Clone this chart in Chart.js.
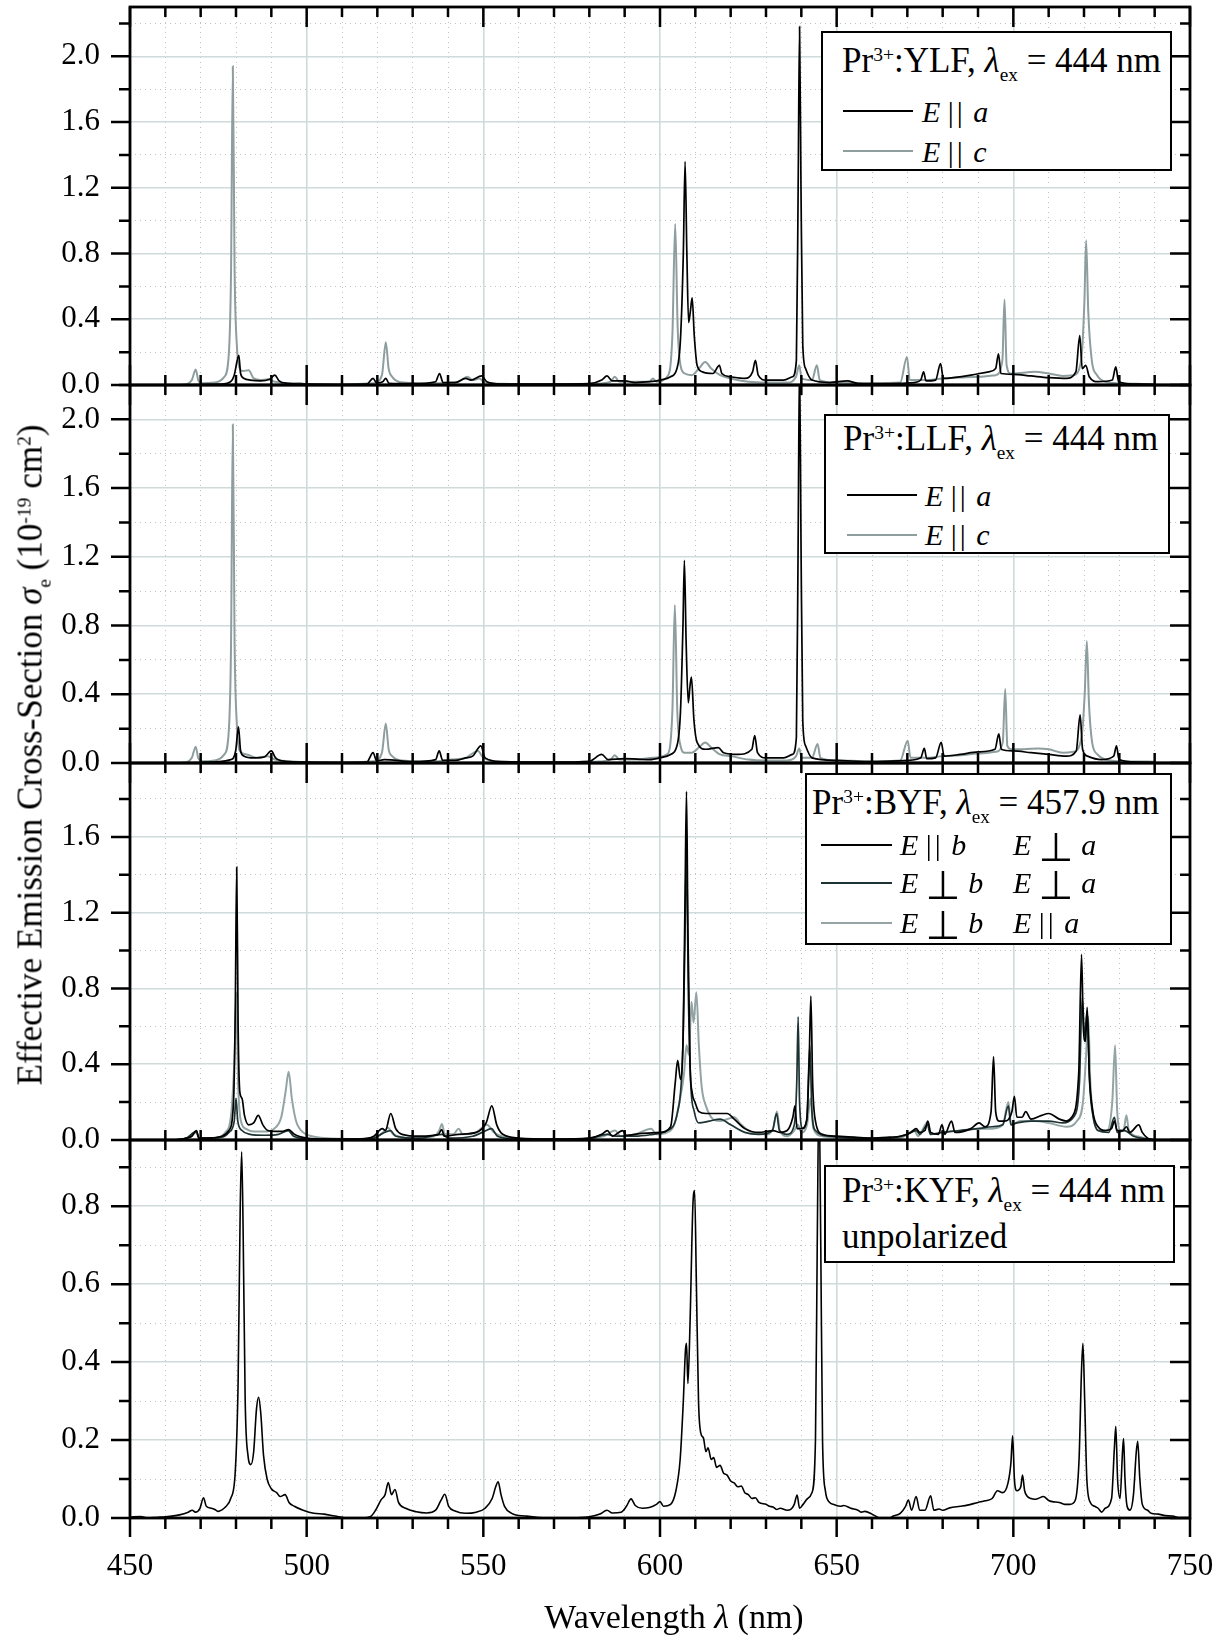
<!DOCTYPE html>
<html>
<head>
<meta charset="utf-8">
<script src="https://cdn.jsdelivr.net/npm/chart.js@4.4.1/dist/chart.umd.min.js"></script>
<style>
  html, body { margin: 0; padding: 0; background: #fff; }
  #fig { position: relative; width: 1228px; height: 1638px; overflow: hidden;
         font-family: "Liberation Serif", "Times New Roman", serif; color: #000; }
  #fig canvas { position: absolute; left: 0; }
  .box { position: absolute; background: #fff; border: 2.5px solid #000; box-sizing: border-box; }
  .t { position: absolute; white-space: nowrap; font-size: 35px; line-height: 1; }
  .e { position: absolute; white-space: nowrap; font-size: 30px; line-height: 1; }
  .ln { position: absolute; height: 0; border-top: 2px solid #000; }
  sup { font-size: 0.56em; position: relative; top: -0.55em; vertical-align: baseline; line-height: 0; }
  sub { font-size: 0.55em; position: relative; top: 0.45em; vertical-align: baseline; line-height: 0; }
  .perp { font-family: "DejaVu Sans", sans-serif; font-size: 40px; position: relative; top: 6px; line-height: 0; }
  .bars { letter-spacing: 3px; }
  #ytitle { position: absolute; left: 30px; top: 755px; white-space: nowrap; font-size: 35px; line-height: 1;
            transform: translate(-50%, -50%) rotate(-90deg); }
  #xtitle { position: absolute; left: 674px; top: 1600px; white-space: nowrap; font-size: 34px; line-height: 1;
            transform: translateX(-50%); }
</style>
</head>
<body>
<div id="fig">
  <canvas id="c1"></canvas>
  <canvas id="c2"></canvas>
  <canvas id="c3"></canvas>
  <canvas id="c4"></canvas>

  <!-- panel 1 legend -->
  <div class="box" style="left:821px;top:31px;width:351px;height:140px"></div>
  <div class="t" style="left:842px;top:43px">Pr<sup>3+</sup>:YLF, <i>λ</i><sub>ex</sub> = 444 nm</div>
  <div class="ln" style="left:843px;top:110px;width:70px;border-color:#000"></div>
  <div class="e" style="left:922px;top:97px"><i>E</i> <span class="bars">||</span> <i>a</i></div>
  <div class="ln" style="left:843px;top:150px;width:70px;border-color:#8e9d9d"></div>
  <div class="e" style="left:922px;top:137px"><i>E</i> <span class="bars">||</span> <i>c</i></div>

  <!-- panel 2 legend -->
  <div class="box" style="left:824px;top:414px;width:346px;height:140px"></div>
  <div class="t" style="left:843px;top:421px">Pr<sup>3+</sup>:LLF, <i>λ</i><sub>ex</sub> = 444 nm</div>
  <div class="ln" style="left:847px;top:494px;width:70px;border-color:#000"></div>
  <div class="e" style="left:925px;top:481px"><i>E</i> <span class="bars">||</span> <i>a</i></div>
  <div class="ln" style="left:847px;top:534px;width:70px;border-color:#8e9d9d"></div>
  <div class="e" style="left:925px;top:520px"><i>E</i> <span class="bars">||</span> <i>c</i></div>

  <!-- panel 3 legend -->
  <div class="box" style="left:805px;top:773px;width:367px;height:172px"></div>
  <div class="t" style="left:812px;top:785px">Pr<sup>3+</sup>:BYF, <i>λ</i><sub>ex</sub> = 457.9 nm</div>
  <div class="ln" style="left:821px;top:844px;width:71px;border-color:#000"></div>
  <div class="e" style="left:900px;top:830px"><i>E</i> <span class="bars">||</span> <i>b</i></div>
  <div class="e" style="left:1013px;top:830px"><i>E</i> <span class="perp">⊥</span> <i>a</i></div>
  <div class="ln" style="left:821px;top:882px;width:71px;border-color:#1d3333"></div>
  <div class="e" style="left:900px;top:868px"><i>E</i> <span class="perp">⊥</span> <i>b</i></div>
  <div class="e" style="left:1013px;top:868px"><i>E</i> <span class="perp">⊥</span> <i>a</i></div>
  <div class="ln" style="left:821px;top:922px;width:71px;border-color:#94a4a4"></div>
  <div class="e" style="left:900px;top:908px"><i>E</i> <span class="perp">⊥</span> <i>b</i></div>
  <div class="e" style="left:1013px;top:908px"><i>E</i> <span class="bars">||</span> <i>a</i></div>

  <!-- panel 4 legend -->
  <div class="box" style="left:824px;top:1165px;width:351px;height:98px"></div>
  <div class="t" style="left:842px;top:1173px">Pr<sup>3+</sup>:KYF, <i>λ</i><sub>ex</sub> = 444 nm</div>
  <div class="t" style="left:842px;top:1219px">unpolarized</div>

  <div id="ytitle">Effective Emission Cross-Section <i>σ</i><sub>e</sub> (10<sup>-19</sup> cm<sup>2</sup>)</div>
  <div id="xtitle">Wavelength <i>λ</i> (nm)</div>
</div>

<script>
// spectra: [wavelength nm, cross-section 1e-19 cm^2]

// Pr:YLF
const ylfEa = [[462,0],[470,0.003],[476,0.005],[478.5,0.02],[479.5,0.06],[480.8,0.18],[481.3,0.07],[482.3,0.04],[484,0.03],[487,0.025],[489.5,0.035],[491,0.06],[492.2,0.025],[494.5,0.01],[500,0.005],[510,0.003],[517,0.005],[518.8,0.04],[519.8,0.012],[521.5,0.02],[522.4,0.04],[523.3,0.01],[530,0.008],[536.5,0.02],[537.6,0.07],[538.6,0.015],[542,0.015],[545,0.04],[546.5,0.03],[549.5,0.055],[551,0.02],[555,0.006],[570,0.005],[580,0.008],[583.5,0.03],[585,0.055],[586.5,0.025],[590,0.025],[593,0.015],[597,0.02],[600,0.03],[603,0.05],[604.8,0.1],[605.8,0.28],[606.6,0.8],[607.1,1.36],[607.6,0.8],[608.1,0.38],[608.6,0.45],[609.1,0.53],[609.7,0.3],[610.5,0.12],[612,0.08],[615,0.07],[616.8,0.12],[617.5,0.07],[620,0.05],[624,0.04],[626.2,0.08],[627,0.15],[627.8,0.06],[630,0.03],[635,0.03],[637.5,0.05],[638.6,0.15],[639.1,1.2],[639.5,2.18],[639.9,1.2],[640.4,0.25],[641.2,0.1],[643,0.03],[648,0.015],[653,0.025],[656,0.01],[665,0.008],[672,0.015],[673.8,0.03],[674.6,0.08],[675.3,0.025],[678,0.03],[679.4,0.13],[680.2,0.04],[683,0.045],[688,0.06],[693,0.08],[695,0.1],[695.8,0.19],[696.5,0.07],[700,0.065],[705,0.055],[710,0.045],[715,0.04],[717.7,0.08],[718.8,0.3],[719.5,0.1],[720.5,0.12],[721.5,0.05],[724,0.02],[728,0.03],[729,0.11],[729.8,0.02],[735,0.005],[740,0.003]];
const ylfEc = [[462,0],[466,0.005],[467.5,0.03],[468.6,0.095],[469.3,0.03],[470.5,0.01],[474,0.015],[476.7,0.05],[478,0.2],[478.6,0.7],[479.1,1.94],[479.6,0.7],[480.3,0.22],[481.1,0.1],[482,0.085],[483.6,0.09],[485,0.04],[487,0.03],[489,0.035],[491,0.02],[495,0.01],[498,0.012],[500,0.005],[510,0.003],[519,0.01],[521.3,0.06],[522.4,0.26],[523.2,0.1],[524.2,0.05],[526,0.02],[530,0.012],[537,0.01],[540,0.015],[543,0.02],[545.5,0.05],[547,0.03],[549,0.04],[550,0.02],[555,0.008],[570,0.005],[582,0.008],[586,0.02],[587.2,0.05],[588.5,0.02],[592,0.02],[597,0.02],[598,0.04],[599,0.02],[602,0.05],[603.5,0.3],[604.3,0.98],[605,0.35],[605.8,0.12],[607,0.07],[609,0.06],[611,0.1],[612.8,0.14],[614.5,0.1],[617,0.06],[620,0.04],[625,0.02],[630,0.015],[636,0.015],[638.5,0.05],[639.4,0.12],[640.1,0.04],[643,0.03],[644.4,0.12],[645.2,0.03],[650,0.015],[660,0.01],[668,0.015],[669.9,0.17],[670.7,0.03],[675,0.03],[680,0.04],[685,0.045],[690,0.05],[695,0.06],[696.9,0.15],[697.5,0.52],[698.1,0.12],[699.3,0.07],[703,0.075],[706,0.08],[710,0.07],[714,0.055],[717,0.06],[719.2,0.15],[720.1,0.5],[720.6,0.88],[721.2,0.45],[722.2,0.15],[723.7,0.06],[726,0.02],[730,0.01],[740,0.005]];

// Pr:LLF
const llfEa = [[462,0],[470,0.003],[478.5,0.02],[479.9,0.07],[480.7,0.21],[481.3,0.07],[482.3,0.04],[485,0.03],[488,0.035],[490,0.07],[491.2,0.03],[494,0.01],[500,0.005],[510,0.003],[517,0.005],[518.8,0.06],[519.8,0.012],[522,0.02],[530,0.008],[536.5,0.02],[537.5,0.07],[538.5,0.015],[542,0.015],[545,0.03],[547,0.04],[549.3,0.1],[550.5,0.03],[555,0.008],[570,0.005],[580,0.01],[583.5,0.05],[585.3,0.02],[590,0.025],[597,0.02],[600,0.03],[603,0.05],[604.8,0.1],[605.8,0.3],[606.5,0.8],[606.9,1.18],[607.4,0.7],[608,0.35],[608.5,0.45],[608.9,0.5],[609.6,0.25],[610.5,0.12],[613,0.08],[616.5,0.09],[618,0.06],[622,0.05],[626,0.08],[626.8,0.16],[627.6,0.06],[630,0.03],[635,0.03],[637.5,0.05],[638.6,0.15],[639.1,1.3],[639.5,2.35],[639.9,1.3],[640.4,0.25],[641.2,0.1],[643,0.03],[650,0.015],[660,0.008],[670,0.015],[673.8,0.03],[674.8,0.085],[675.5,0.025],[678,0.03],[679.6,0.12],[680.4,0.04],[685,0.05],[690,0.065],[694.8,0.08],[695.9,0.17],[696.6,0.08],[700,0.07],[705,0.06],[710,0.05],[715,0.04],[717.8,0.07],[718.9,0.28],[719.6,0.08],[721,0.04],[725,0.02],[728.4,0.04],[729.2,0.1],[729.9,0.02],[735,0.005],[740,0.003]];
const llfEc = [[462,0],[466,0.005],[467.5,0.03],[468.6,0.095],[469.3,0.03],[470.5,0.01],[474,0.015],[476.7,0.05],[478,0.2],[478.6,0.7],[479.1,1.97],[479.6,0.7],[480.3,0.2],[481.1,0.07],[483,0.05],[486,0.03],[489,0.04],[491,0.02],[495,0.01],[500,0.005],[510,0.003],[519,0.01],[521.3,0.06],[522.4,0.23],[523.2,0.08],[524.2,0.04],[527,0.015],[537,0.01],[541,0.02],[545,0.03],[548.5,0.07],[550,0.03],[555,0.008],[570,0.005],[582,0.008],[586,0.02],[587.2,0.045],[588.5,0.02],[593,0.02],[598,0.03],[602,0.05],[603.5,0.3],[604.2,0.92],[604.9,0.3],[605.8,0.1],[607,0.06],[609,0.06],[611,0.09],[612.8,0.12],[614.5,0.09],[617,0.05],[620,0.04],[625,0.02],[630,0.015],[636,0.015],[638.5,0.04],[639.4,0.085],[640.1,0.03],[643,0.03],[644.6,0.11],[645.4,0.03],[650,0.015],[660,0.01],[668,0.015],[670.1,0.13],[670.9,0.03],[675,0.03],[680,0.04],[685,0.045],[690,0.055],[695,0.065],[697,0.12],[697.7,0.43],[698.3,0.1],[699.5,0.08],[703,0.08],[707,0.085],[710,0.08],[714,0.06],[717,0.065],[719.3,0.15],[720.2,0.4],[720.8,0.71],[721.4,0.35],[722.3,0.12],[723.8,0.05],[726,0.02],[730,0.01],[740,0.008]];

// Pr:BYF
const byfParaB = [[463,0],[466,0.01],[467.5,0.02],[468.8,0.05],[469.5,0.01],[472,0.01],[476,0.02],[478,0.05],[479.3,0.2],[479.8,0.7],[480.2,1.44],[480.6,0.6],[481.1,0.25],[481.7,0.22],[482.4,0.13],[483.6,0.08],[485,0.09],[486.3,0.13],[487.6,0.08],[489,0.05],[491,0.045],[493,0.045],[494.9,0.055],[496.5,0.03],[500,0.01],[505,0.005],[515,0.005],[519,0.02],[521.4,0.06],[522.3,0.05],[523.8,0.14],[525.2,0.06],[527,0.03],[532,0.02],[536,0.025],[537.3,0.03],[538.2,0.055],[539,0.02],[543,0.03],[548,0.04],[550.8,0.09],[552.4,0.18],[553.8,0.08],[555.5,0.03],[560,0.01],[570,0.005],[580,0.01],[583.5,0.03],[585.1,0.05],[586.5,0.02],[589.4,0.05],[590.5,0.025],[595,0.035],[600,0.04],[603,0.07],[604.3,0.3],[605,0.42],[605.8,0.32],[606.6,0.6],[607.1,1.3],[607.5,1.84],[607.9,1.1],[608.5,0.4],[609.1,0.25],[609.9,0.2],[611,0.15],[613,0.14],[616,0.14],[619,0.14],[621,0.11],[624,0.06],[628,0.04],[632,0.05],[634,0.04],[636,0.05],[637.6,0.12],[638.2,0.18],[638.8,0.06],[640,0.06],[641.5,0.1],[642.2,0.4],[642.7,0.76],[643.2,0.3],[644,0.1],[646,0.03],[650,0.02],[655,0.015],[660,0.01],[665,0.015],[668,0.02],[671,0.04],[672.5,0.06],[673.5,0.04],[675,0.05],[675.8,0.1],[676.6,0.04],[678.8,0.03],[679.8,0.08],[680.6,0.03],[682.5,0.1],[683.5,0.04],[688,0.06],[690.3,0.09],[692,0.07],[693.7,0.15],[694.4,0.44],[695,0.15],[696,0.1],[697.5,0.1],[699.6,0.15],[700.3,0.23],[701,0.12],[702.5,0.12],[703.5,0.15],[705,0.11],[708,0.13],[710,0.14],[713,0.11],[715,0.1],[716.5,0.12],[718.5,0.35],[719.3,0.98],[719.8,0.6],[720.4,0.52],[720.9,0.7],[721.5,0.35],[722.5,0.15],[724,0.07],[726,0.05],[727.8,0.06],[728.6,0.1],[729.4,0.05],[731,0.05],[732,0.07],[733,0.04],[735.5,0.08],[736.5,0.04],[738,0.01],[740,0]];
const byfPerpB = [[463,0],[466,0.01],[468.8,0.045],[469.5,0.01],[476,0.015],[478,0.04],[479.5,0.1],[480,0.22],[480.5,0.1],[481.7,0.05],[484,0.03],[488,0.025],[492,0.03],[494.8,0.05],[496.3,0.02],[500,0.008],[510,0.004],[519,0.01],[521.5,0.035],[523.7,0.05],[525.2,0.02],[532,0.01],[538.3,0.03],[540,0.01],[547,0.02],[550.8,0.05],[552.3,0.06],[554,0.02],[560,0.005],[570,0.004],[580,0.008],[585,0.03],[587.5,0.02],[593,0.02],[598,0.03],[602,0.05],[605,0.15],[606.5,0.5],[607.1,1.1],[607.5,1.55],[608,0.8],[608.7,0.3],[609.7,0.15],[611,0.09],[614,0.1],[617,0.11],[620,0.08],[624,0.04],[628,0.03],[631.8,0.05],[633,0.14],[633.8,0.05],[636,0.03],[638,0.08],[638.7,0.3],[639.1,0.65],[639.5,0.2],[640.4,0.06],[641.6,0.12],[642.4,0.5],[643,0.15],[644,0.05],[648,0.02],[655,0.01],[665,0.01],[670,0.03],[672.5,0.05],[673.5,0.03],[675.7,0.08],[676.5,0.03],[680,0.04],[685,0.05],[690,0.06],[694,0.07],[697,0.08],[698.6,0.18],[699.3,0.08],[701,0.09],[705,0.1],[710,0.1],[714,0.09],[717,0.12],[718.7,0.3],[719.5,0.75],[720.2,0.55],[720.9,0.68],[721.6,0.3],[722.6,0.12],[724,0.05],[727,0.04],[728.6,0.12],[729.4,0.04],[731.5,0.05],[734,0.02],[738,0.005],[740,0]];
const byfPerpBParaA = [[463,0],[466,0.01],[468.8,0.04],[469.5,0.01],[474,0.01],[477,0.04],[478.7,0.15],[479.7,0.5],[480.1,0.78],[480.6,0.3],[481.4,0.1],[482.7,0.06],[485,0.045],[488,0.045],[490.8,0.06],[492.8,0.12],[494,0.25],[494.9,0.36],[495.8,0.22],[497,0.1],[499,0.04],[501.5,0.02],[505,0.01],[515,0.005],[520,0.02],[521.6,0.04],[523,0.065],[524.5,0.03],[530,0.01],[536,0.02],[537.5,0.05],[538.3,0.085],[539.1,0.03],[541.5,0.03],[543,0.06],[544.2,0.03],[548,0.04],[551,0.08],[553,0.04],[556,0.015],[562,0.005],[575,0.005],[584,0.02],[587.3,0.05],[588.8,0.02],[593,0.03],[597.5,0.06],[599,0.03],[602,0.04],[604,0.08],[605.5,0.2],[606.8,0.35],[607.5,0.5],[608.2,0.45],[608.9,0.73],[609.5,0.62],[610.3,0.78],[611,0.5],[611.8,0.28],[613,0.18],[615,0.11],[617,0.1],[619,0.11],[621,0.12],[623,0.08],[626,0.04],[630,0.03],[632,0.06],[633.1,0.15],[633.9,0.05],[636,0.02],[638,0.05],[639,0.08],[640,0.04],[641.6,0.08],[642.6,0.22],[643.4,0.06],[646,0.02],[650,0.01],[660,0.005],[668,0.01],[672,0.05],[673,0.02],[675.8,0.095],[676.6,0.03],[680,0.04],[685,0.05],[690,0.06],[694,0.06],[697,0.08],[698.6,0.2],[699.4,0.08],[702,0.1],[706,0.1],[710,0.09],[715,0.07],[718,0.1],[719.7,0.2],[720.6,0.45],[721.2,0.65],[721.8,0.3],[722.7,0.12],[724,0.05],[726.5,0.05],[728,0.2],[728.8,0.5],[729.4,0.15],[730.4,0.05],[731.3,0.06],[732,0.13],[732.7,0.05],[735,0.02],[738,0.005],[740,0]];

// Pr:KYF unpolarized
const kyf = [[450,0.002],[453,0.004],[455,0],[458,0.002],[460,0.003],[464,0.008],[466.5,0.015],[467.6,0.02],[468.5,0.015],[469.8,0.025],[470.8,0.052],[471.6,0.03],[473,0.025],[474,0.022],[475,0.017],[476,0.021],[477,0.028],[478.5,0.05],[479.8,0.12],[480.6,0.35],[481.2,0.8],[481.6,0.94],[482,0.75],[482.6,0.3],[483.4,0.16],[484.2,0.137],[485,0.17],[485.8,0.28],[486.4,0.31],[487,0.27],[487.8,0.16],[488.8,0.1],[490,0.075],[491.5,0.065],[492.5,0.055],[493.9,0.06],[495,0.04],[496.5,0.03],[499,0.02],[502,0.012],[505,0.01],[508,0.005],[512,0],[516,0],[518,0.003],[519.5,0.02],[521.1,0.047],[522.2,0.06],[523.1,0.091],[524,0.06],[525,0.073],[526,0.04],[528,0.025],[531,0.016],[534,0.013],[536.5,0.02],[538,0.045],[539.1,0.061],[540.2,0.03],[542,0.018],[545,0.012],[548,0.015],[550.5,0.025],[552.5,0.05],[553.5,0.08],[554.2,0.093],[555,0.06],[556,0.03],[558,0.012],[562,0.005],[568,0],[575,0],[580,0.003],[583,0.01],[585,0.02],[586.5,0.013],[589,0.015],[590.5,0.03],[591.8,0.049],[593,0.032],[595,0.025],[597,0.027],[599,0.035],[600,0.042],[601,0.03],[603,0.035],[604.5,0.07],[605.7,0.15],[606.6,0.3],[607.2,0.43],[607.5,0.448],[607.9,0.345],[608.5,0.5],[609.3,0.8],[609.8,0.84],[610.3,0.6],[610.9,0.3],[611.5,0.22],[612.3,0.205],[613,0.17],[613.6,0.18],[614.5,0.15],[615.2,0.155],[616,0.13],[617,0.135],[618,0.115],[619,0.11],[620,0.095],[621,0.09],[622,0.08],[623,0.082],[624,0.065],[625,0.06],[626,0.05],[627,0.052],[628,0.04],[630,0.035],[631,0.03],[632,0.028],[633,0.022],[634,0.025],[636,0.02],[637,0.022],[638,0.035],[638.8,0.059],[639.5,0.025],[640.5,0.035],[641.8,0.05],[643,0.065],[644,0.2],[644.5,0.7],[645,1.1],[645.5,0.7],[646,0.2],[646.8,0.07],[648,0.04],[649,0.035],[651,0.03],[652,0.032],[654,0.025],[656,0.02],[657,0.015],[658,0.017],[660,0.01],[662,0],[664,-0.005],[666,0.005],[668,0.012],[669.5,0.03],[670.3,0.046],[671.2,0.02],[672.5,0.055],[673.5,0.02],[675,0.02],[676.6,0.057],[677.5,0.02],[679,0.023],[680,0.02],[682,0.026],[685,0.03],[687,0.033],[690,0.04],[692,0.044],[694,0.05],[695.5,0.07],[697,0.065],[698.5,0.09],[699.3,0.14],[699.8,0.211],[700.3,0.1],[701,0.07],[702.1,0.08],[702.6,0.11],[703.2,0.07],[704,0.055],[705,0.05],[706,0.048],[707,0.05],[708.5,0.055],[710,0.045],[711,0.042],[713,0.04],[714.5,0.035],[716,0.035],[717.5,0.045],[718.6,0.15],[719.3,0.38],[719.7,0.448],[720.2,0.3],[720.8,0.1],[721.8,0.04],[723,0.03],[724,0.025],[725,0.015],[726,0.025],[727.8,0.05],[728.6,0.18],[729,0.235],[729.5,0.1],[730.2,0.05],[730.9,0.17],[731.2,0.204],[731.6,0.1],[732.2,0.03],[733,0.02],[734,0.06],[734.8,0.17],[735.2,0.197],[735.8,0.1],[736.5,0.035],[738,0.02],[739,0.012],[741,0.01],[743,0.006],[745,0.005],[747,0.0],[750,-0.005]];

// panel extents (chart-area pixels) and y ranges
const panelTop    = [7, 385, 763, 1140];
const panelBottom = [385, 763, 1140, 1518];
const yMax        = [2.3, 2.2, 1.99, 0.97];
const yStep       = [0.2, 0.2, 0.2, 0.1];
const yLabelStep  = [0.4, 0.4, 0.4, 0.2];

const BLACK = '#000000', GREY = '#8e9d9d', TEAL = '#1d3333', LIGHT = '#94a4a4';
const FONT = "'Liberation Serif', 'Times New Roman', serif";

Chart.defaults.font.family = FONT;
Chart.defaults.color = '#000';

function near(v, step) {
    return Math.abs(v / step - Math.round(v / step)) < 1e-6;
}

// axis frame with Origin-style ticks: left outward, right/top inward, bottom inward except last panel
const frame = {
    id: 'frame',
    afterDatasetsDraw(chart, args, opts) {
        const ctx = chart.ctx, a = chart.chartArea;
        const x = chart.scales.x, y = chart.scales.y;
        ctx.save();
        ctx.strokeStyle = '#000';
        ctx.lineWidth = 2.5;
        ctx.beginPath();
        x.ticks.forEach(function (t) {
            const px = x.getPixelForValue(t.value);
            const major = near(t.value, 50);
            const len = major ? 20 : 10;
            ctx.moveTo(px, a.top);
            ctx.lineTo(px, a.top + len);
            ctx.moveTo(px, a.bottom);
            if (opts.outBottom) ctx.lineTo(px, a.bottom + (major ? 19 : 11));
            else ctx.lineTo(px, a.bottom - len);
        });
        y.ticks.forEach(function (t) {
            const py = y.getPixelForValue(t.value);
            const major = near(t.value, opts.labelStep);
            ctx.moveTo(a.left, py);
            ctx.lineTo(a.left - (major ? 19 : 11), py);
            ctx.moveTo(a.right, py);
            ctx.lineTo(a.right - (major ? 20 : 10), py);
        });
        ctx.stroke();
        ctx.lineWidth = 2.8;
        ctx.strokeRect(a.left, a.top, a.right - a.left, a.bottom - a.top);
        ctx.restore();
    }
};

function gridColor(step) {
    return function (c) { return near(c.tick.value, step) ? '#cfdbdb' : '#c2c2c2'; };
}
function gridWidth(step) {
    return function (c) { return near(c.tick.value, step) ? 1.6 : 1; };
}
function gridDash(step) {
    return function (c) { return near(c.tick.value, step) ? [] : [1, 4]; };
}

function makePanel(i, sets) {
    const last = i === 3;
    const padT = 16, padB = last ? 0 : 16, xH = last ? 100 : 0;
    const cv = document.getElementById('c' + (i + 1));
    const h = (panelBottom[i] - panelTop[i]) + padT + padB + xH;
    cv.width = 1228;
    cv.height = h;
    cv.style.width = '1228px';
    cv.style.height = h + 'px';
    cv.style.top = (panelTop[i] - padT) + 'px';

    const datasets = sets.map(function (s) {
        return {
            data: s.pts.map(function (p) { return {x: p[0], y: p[1]}; }),
            borderColor: s.color,
            borderWidth: s.width || 1.7,
            pointRadius: 0,
            fill: false,
            cubicInterpolationMode: 'monotone',
        };
    });

    new Chart(cv, {
        type: 'line',
        data: {datasets: datasets},
        options: {
            responsive: false,
            animation: false,
            events: [],
            layout: {padding: {left: 0, right: 38, top: padT, bottom: padB}},
            plugins: {
                legend: {display: false},
                tooltip: {enabled: false},
                frame: {outBottom: last, labelStep: yLabelStep[i]},
            },
            scales: {
                x: {
                    type: 'linear', min: 450, max: 750,
                    afterFit: function (s) { s.height = xH; s.paddingLeft = 0; s.paddingRight = 0; },
                    ticks: {
                        display: last, stepSize: 10, autoSkip: false, maxRotation: 0, padding: 30,
                        font: {family: 'Liberation Serif', size: 31},
                        callback: function (v) { return near(v, 50) ? String(v) : ''; },
                    },
                    grid: {drawTicks: false, color: gridColor(50), lineWidth: gridWidth(50)},
                    border: {display: false, dash: gridDash(50)},
                },
                y: {
                    type: 'linear', min: 0, max: yMax[i],
                    afterFit: function (s) { s.width = 130; s.paddingTop = 0; s.paddingBottom = 0; },
                    ticks: {
                        stepSize: yStep[i], autoSkip: false, includeBounds: false, padding: 30,
                        font: {family: 'Liberation Serif', size: 31},
                        callback: function (v) { return near(v, yLabelStep[i]) ? v.toFixed(1) : ''; },
                    },
                    grid: {drawTicks: false, color: gridColor(yLabelStep[i]), lineWidth: gridWidth(yLabelStep[i])},
                    border: {display: false, dash: gridDash(yLabelStep[i])},
                },
            },
        },
        plugins: [frame],
    });
}

makePanel(0, [{pts: ylfEa, color: BLACK}, {pts: ylfEc, color: GREY, width: 2}]);
makePanel(1, [{pts: llfEa, color: BLACK}, {pts: llfEc, color: GREY, width: 2}]);
makePanel(2, [{pts: byfParaB, color: BLACK}, {pts: byfPerpB, color: TEAL}, {pts: byfPerpBParaA, color: LIGHT, width: 2}]);
makePanel(3, [{pts: kyf, color: BLACK, width: 1.6}]);
</script>
</body>
</html>
